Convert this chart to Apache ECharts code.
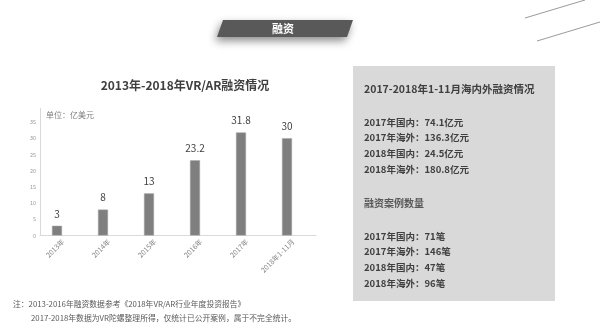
<!DOCTYPE html>
<html>
<head>
<meta charset="utf-8">
<script src="https://cdn.jsdelivr.net/npm/echarts@6/dist/echarts.min.js"></script>
<style>
html,body{margin:0;padding:0;background:#fff;}
#c{width:600px;height:333px;}
</style>
</head>
<body>
<div id="c"></div>
<script>
var categories = ['2013年', '2014年', '2015年', '2016年', '2017年', '2018年1-11月'];
var funding = [3, 8, 13, 23.2, 31.8, 30];
var yTicks = [0, 5, 10, 15, 20, 25, 30, 35];
var panelTitle = '2017-2018年1-11月海内外融资情况';
var amountLines = ['2017年国内：74.1亿元', '2017年海外：136.3亿元', '2018年国内：24.5亿元', '2018年海外：180.8亿元'];
var caseTitle = '融资案例数量';
var caseLines = ['2017年国内：71笔', '2017年海外：146笔', '2018年国内：47笔', '2018年海外：96笔'];
var notes = ['注：2013-2016年融资数据参考《2018年VR/AR行业年度投资报告》', '2017-2018年数据为VR陀螺整理所得，仅统计已公开案例，属于不完全统计。'];

var FONT = '"Noto Sans CJK SC", "Noto Sans", sans-serif';
var chart = echarts.init(document.getElementById('c'));

var graphics = [
  {type:'line', shape:{x1:525,y1:18,x2:585,y2:0}, style:{stroke:'#9a9a9a', lineWidth:1}},
  {type:'line', shape:{x1:537,y1:41,x2:600,y2:22}, style:{stroke:'#9a9a9a', lineWidth:1}},
  {type:'polygon', shape:{points:[[223,20],[353,20],[347,37],[217,37]]},
   style:{fill:'#595959', shadowBlur:8, shadowOffsetY:4, shadowOffsetX:-2, shadowColor:'rgba(0,0,0,0.45)'}},
  {type:'text', x:283, y:28.5, style:{text:'融资', fill:'#fff', font:'bold 11px ' + FONT, textAlign:'center', textVerticalAlign:'middle'}},
  {type:'rect', shape:{x:353, y:66, width:202, height:235}, style:{fill:'#d9d9d9'}},
  {type:'text', x:364, y:89, style:{text:panelTitle, fill:'#404040', font:'bold 10.5px ' + FONT, textVerticalAlign:'middle'}},
  {type:'text', x:364, y:203, style:{text:caseTitle, fill:'#595959', font:'bold 10px ' + FONT, textVerticalAlign:'middle'}},
  {type:'line', shape:{x1:40.5,y1:108,x2:40.5,y2:122}, style:{stroke:'#d9d9d9', lineWidth:1}},
  {type:'text', x:46, y:115, style:{text:'单位：亿美元', fill:'#7f7f7f', font:'8px ' + FONT, textVerticalAlign:'middle'}},
  {type:'text', x:13, y:304, style:{text:notes[0], fill:'#595959', font:'7.8px ' + FONT, textVerticalAlign:'middle'}},
  {type:'text', x:31, y:318, style:{text:notes[1], fill:'#595959', font:'7.8px ' + FONT, textVerticalAlign:'middle'}}
];
amountLines.forEach(function(t, i){
  graphics.push({type:'text', x:364, y:122 + i*15.7, style:{text:t, fill:'#404040', font:'bold 9.5px ' + FONT, textVerticalAlign:'middle'}});
});
caseLines.forEach(function(t, i){
  graphics.push({type:'text', x:364, y:236 + i*15.7, style:{text:t, fill:'#404040', font:'bold 9.5px ' + FONT, textVerticalAlign:'middle'}});
});

chart.setOption({
  animation:false,
  textStyle:{fontFamily:FONT},
  title:{text:'2013年-2018年VR/AR融资情况', left:180, top:74, textAlign:'center',
    textStyle:{fontSize:12, fontWeight:'bold', color:'#404040', fontFamily:FONT}},
  grid:{left:40, right:284, top:122, bottom:97.5},
  xAxis:{type:'category', data:categories,
    axisLine:{lineStyle:{color:'#d9d9d9'}}, axisTick:{show:false},
    axisLabel:{rotate:45, fontSize:7, color:'#808080', margin:5, interval:0}},
  yAxis:{type:'value', min:yTicks[0], max:yTicks[yTicks.length-1], interval:5,
    axisLine:{show:true, lineStyle:{color:'#d9d9d9'}}, axisTick:{show:false},
    splitLine:{show:false},
    axisLabel:{fontSize:5.5, color:'#999', margin:4}},
  series:[
    {type:'bar', data:funding, barWidth:10, barGap:'20%',
     itemStyle:{color:'#7f7f7f', borderColor:'#a6a6a6', borderWidth:0.5},
     label:{show:true, position:'top', distance:7, fontSize:10, color:'#404040'}},
    {type:'bar', data:categories.map(function(){return null;}), barWidth:10, silent:true}
  ],
  graphic:graphics
});
</script>
</body>
</html>
